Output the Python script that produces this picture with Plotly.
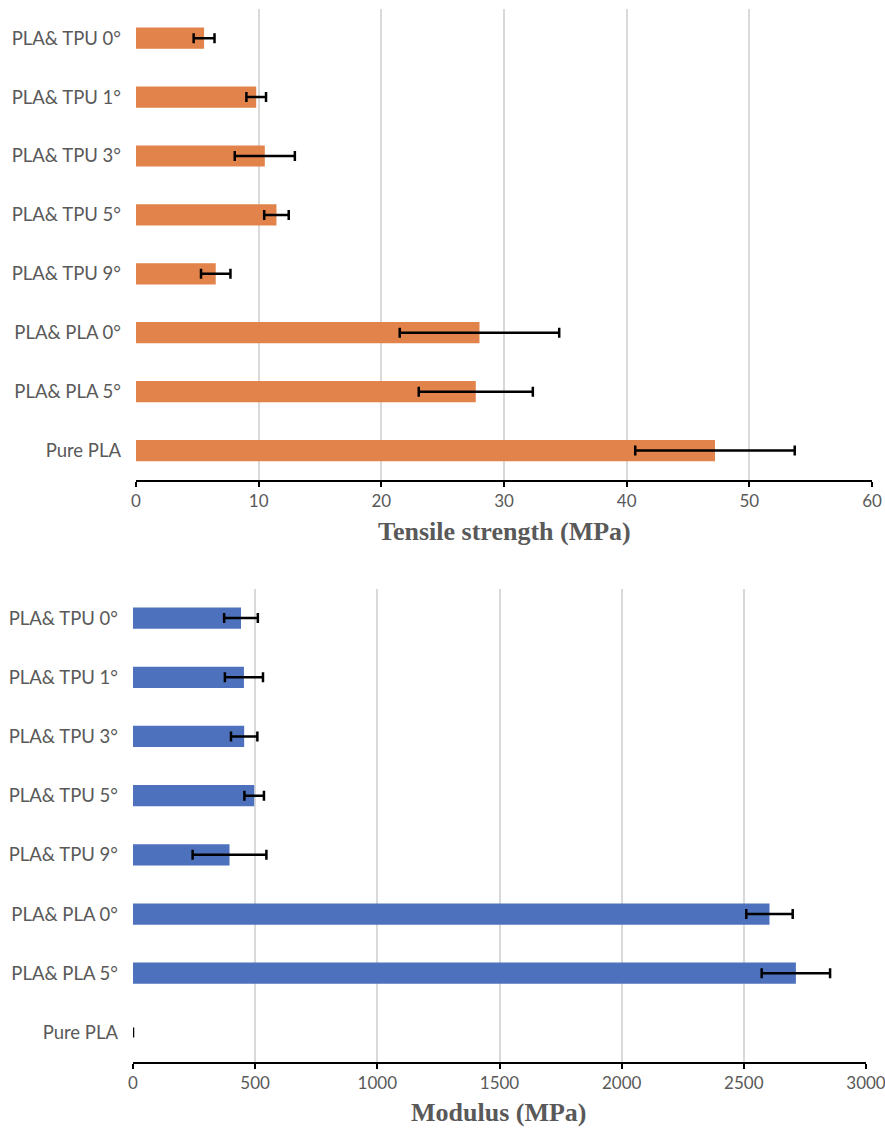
import plotly.graph_objects as go

# Specimen groups, listed top to bottom
categories = ["PLA& TPU 0°", "PLA& TPU 1°", "PLA& TPU 3°", "PLA& TPU 5°",
              "PLA& TPU 9°", "PLA& PLA 0°", "PLA& PLA 5°", "Pure PLA"]

# Tensile strength (MPa) with standard deviation
strength = [5.55, 9.8, 10.5, 11.45, 6.5, 28.0, 27.7, 47.2]
strength_sd = [0.85, 0.8, 2.45, 1.0, 1.2, 6.5, 4.65, 6.5]

# Modulus (MPa) with standard deviation
modulus = [442, 454, 455, 496, 395, 2605, 2713, 0]
modulus_sd = [69, 78, 54, 40, 151, 95, 140, 0]

strength_ticks = [0, 10, 20, 30, 40, 50, 60]
modulus_ticks = [0, 500, 1000, 1500, 2000, 2500, 3000]

W, H = 885, 1129
ORANGE = "#E1834A"
BLUE = "#4E71BE"
GRID = "#D9D9D9"
TEXT = "#595959"

fig = go.Figure()

fig.add_trace(go.Bar(
    x=strength, y=categories, orientation="h", width=0.36,
    marker=dict(color=ORANGE, line=dict(width=0)),
    error_x=dict(type="data", array=strength_sd, visible=True,
                 color="black", thickness=2.5, width=5),
    xaxis="x", yaxis="y", showlegend=False,
))

fig.add_trace(go.Bar(
    x=modulus, y=categories, orientation="h", width=0.36,
    marker=dict(color=BLUE, line=dict(width=0)),
    error_x=dict(type="data", array=modulus_sd, visible=True,
                 color="black", thickness=2.5, width=5),
    xaxis="x2", yaxis="y2", showlegend=False,
))

def py(px):
    return 1 - px / H

ylab_font = dict(family="Lato, 'Noto Sans', sans-serif", size=18.5, color=TEXT)
xlab_font = dict(family="Lato, 'Noto Sans', sans-serif", size=17, color=TEXT)

xcommon = dict(
    showgrid=True, gridcolor=GRID, gridwidth=2,
    showline=True, linecolor="black", linewidth=2,
    ticks="outside", ticklen=5, tickwidth=2, tickcolor="black",
    tickfont=xlab_font, zeroline=False, fixedrange=True, automargin=False,
    ticklabeloverflow="allow",
)
ycommon = dict(
    type="category", categoryorder="array", categoryarray=categories,
    autorange="reversed", showgrid=False, showline=False, zeroline=False,
    ticks="", tickfont=ylab_font, ticklabelstandoff=14, automargin=False,
)

fig.update_layout(
    width=W, height=H,
    margin=dict(l=0, r=0, t=0, b=0, autoexpand=False),
    paper_bgcolor="white", plot_bgcolor="white",
    bargap=0.64,
    xaxis=dict(domain=[136 / W, 872 / W], range=[0, 60],
               tickvals=strength_ticks, anchor="y", **xcommon),
    yaxis=dict(domain=[py(480), py(8.7)], anchor="x", **ycommon),
    xaxis2=dict(domain=[133 / W, 866 / W], range=[0, 3000],
                tickvals=modulus_ticks, anchor="y2", **xcommon),
    yaxis2=dict(domain=[py(1062), py(588.5)], anchor="x2", **ycommon),
)

title_font = dict(family="'Liberation Serif', 'DejaVu Serif', serif",
                  size=26, color=TEXT)
fig.add_annotation(text="<b>Tensile strength (MPa)</b>", x=505 / W, y=py(531),
                   xref="paper", yref="paper", showarrow=False,
                   font=title_font, xanchor="center", yanchor="middle")
fig.add_annotation(text="<b>Modulus (MPa)</b>", x=499 / W, y=py(1112),
                   xref="paper", yref="paper", showarrow=False,
                   font=title_font, xanchor="center", yanchor="middle")

fig.write_html("out.html")
